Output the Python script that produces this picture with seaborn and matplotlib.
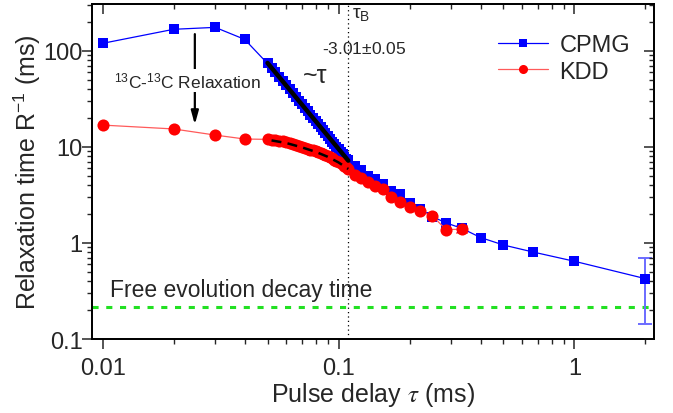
import matplotlib; matplotlib.use("Agg")
import matplotlib.pyplot as plt
import numpy as np
import pandas as pd
import seaborn as sns
from matplotlib.ticker import FuncFormatter, NullFormatter, LogLocator

# ──────────────────────────────────────────────────────────
# Data
# ──────────────────────────────────────────────────────────
cpmg_tau = [0.01, 0.02, 0.03, 0.04,
            0.050, 0.052, 0.054, 0.056, 0.058, 0.060, 0.062, 0.064, 0.066, 0.068,
            0.070, 0.072, 0.074, 0.076, 0.078, 0.080, 0.082, 0.084, 0.086, 0.088,
            0.090, 0.092, 0.094, 0.096, 0.098, 0.100, 0.102, 0.104, 0.106, 0.108, 0.110,
            0.1176, 0.125, 0.1333, 0.1429, 0.1538, 0.1667, 0.1818, 0.2, 0.2222,
            0.25, 0.2857, 0.3333, 0.4, 0.5, 0.6667, 1.0, 2.0]
cpmg_t = [120, 168, 176, 132,
          74, 67, 60, 54, 48.5, 44, 40, 36.3, 33.2, 30.3,
          27.8, 25.5, 23.5, 21.7, 20.1, 18.6, 17.3, 16.0, 14.9, 13.9,
          13.0, 12.2, 11.4, 10.7, 10.0, 9.5, 8.9, 8.4, 7.9, 7.5, 7.3,
          6.4, 5.7, 5.0, 4.6, 4.1, 3.5, 3.2, 2.63, 2.26,
          1.88, 1.62, 1.42, 1.14, 0.953, 0.806, 0.645, 0.425]
cpmg_err = [0] * (len(cpmg_tau) - 1) + [0.28]

kdd_tau = [0.01, 0.02, 0.03, 0.04,
           0.050, 0.052, 0.054, 0.056, 0.058, 0.060, 0.062, 0.064, 0.066, 0.068,
           0.070, 0.072, 0.074, 0.076, 0.078, 0.080, 0.082, 0.084, 0.086, 0.088,
           0.090, 0.092, 0.094, 0.096, 0.098, 0.100, 0.102, 0.104, 0.106, 0.108, 0.110,
           0.1176, 0.125, 0.1333, 0.1429, 0.1538, 0.1667, 0.1818, 0.2, 0.2222,
           0.25, 0.2857, 0.3333]
kdd_t = [16.9, 15.4, 13.3, 12.1,
         12.0, 11.9, 11.8, 11.65, 11.45, 11.2, 11.0, 10.75, 10.5, 10.25,
         10.0, 9.8, 9.6, 9.4, 9.2, 9.0, 8.8, 8.6, 8.4, 8.2,
         8.0, 7.8, 7.6, 7.4, 7.2, 7.0, 6.8, 6.6, 6.4, 6.2, 5.9,
         5.1, 4.72, 4.35, 3.95, 3.62, 3.02, 2.65, 2.37, 2.13,
         1.91, 1.38, 1.39]
kdd_err = [0] * (len(kdd_tau) - 1) + [0.12]

fit_cpmg_tau = [0.05, 0.11]
fit_cpmg_t = [75, 7.2]
fit_kdd_tau = [0.052, 0.06, 0.07, 0.08, 0.09, 0.10, 0.11]
fit_kdd_t = [11.7, 11.0, 9.9, 8.9, 7.9, 6.9, 5.9]

tau_b = 0.11
free_decay = 0.215

# ──────────────────────────────────────────────────────────
# Style
# ──────────────────────────────────────────────────────────
sns.set_style("ticks")
plt.rcParams.update({
    "font.family": ["Liberation Sans", "DejaVu Sans"],
    "mathtext.fontset": "custom",
    "mathtext.rm": "Liberation Sans",
    "mathtext.it": "Liberation Sans:italic",
    "mathtext.bf": "Liberation Sans:bold",
    "axes.linewidth": 1.1,
    "axes.edgecolor": "black",
})

df_cpmg = pd.DataFrame({"tau": cpmg_tau, "t": cpmg_t})
df_kdd = pd.DataFrame({"tau": kdd_tau, "t": kdd_t})

fig = plt.figure(figsize=(6.73, 4.14), dpi=100)
ax = fig.add_axes([0.1371, 0.1787, 0.8351, 0.8085])

sns.lineplot(data=df_cpmg, x="tau", y="t", ax=ax, sort=False, color="#0000ff",
             lw=0.9, marker="s", markersize=7.3, markeredgewidth=0,
             markerfacecolor="#0000ff", label="CPMG", zorder=3)
sns.lineplot(data=df_kdd, x="tau", y="t", ax=ax, sort=False, color="#ff5a5a",
             lw=0.9, marker="o", markersize=8.7, markeredgewidth=0,
             markerfacecolor="#ff0000", label="KDD", zorder=4)

ax.errorbar(cpmg_tau[-1:], cpmg_t[-1:], yerr=cpmg_err[-1:], fmt="none",
            ecolor="#6b6bff", elinewidth=1.4, capsize=5, capthick=1.4, zorder=2)
ax.errorbar(kdd_tau[-1:], kdd_t[-1:], yerr=kdd_err[-1:], fmt="none",
            ecolor="#ff6b6b", elinewidth=1.2, capsize=4, capthick=1.2, zorder=2)

ax.plot(fit_cpmg_tau, fit_cpmg_t, color="black", lw=3.2, solid_capstyle="round", zorder=6)
ax.plot(fit_kdd_tau, fit_kdd_t, color="black", lw=1.8, ls=(0, (4, 2.5)), zorder=6)

ax.axvline(tau_b, color="black", lw=0.9, ls=(0, (1, 2.5)), zorder=1)
ax.axhline(free_decay, color="#22e022", lw=2.2, ls=(0, (2, 2.5)), zorder=1)

ax.set_xscale("log")
ax.set_yscale("log")
ax.set_xlim(0.00904, 2.18)
ax.set_ylim(0.1, 306)

fmt = FuncFormatter(lambda v, _: f"{v:g}")
ax.xaxis.set_major_formatter(fmt)
ax.yaxis.set_major_formatter(fmt)
ax.xaxis.set_minor_formatter(NullFormatter())
ax.yaxis.set_minor_formatter(NullFormatter())
ax.tick_params(which="major", direction="out", length=7, width=1.1, labelsize=17,
               top=False, right=False)
ax.tick_params(axis="x", which="major", pad=6)
ax.tick_params(axis="y", which="major", pad=0)
ax.tick_params(which="minor", direction="out", length=3.5, width=1.0,
               top=False, right=False)

# top / right inward ticks
axt = ax.twiny()
axt.set_xscale("log")
axt.set_xlim(ax.get_xlim())
axt.xaxis.set_minor_locator(LogLocator(subs="auto"))
axt.tick_params(which="major", direction="in", length=7, width=1.1, labeltop=False)
axt.tick_params(which="minor", direction="in", length=3.5, width=1.0)
axt.xaxis.set_minor_formatter(NullFormatter())
axr = ax.twinx()
axr.set_yscale("log")
axr.set_ylim(ax.get_ylim())
axr.tick_params(which="major", direction="in", length=7, width=1.1, labelright=False)
axr.tick_params(which="minor", direction="in", length=3.5, width=1.0)
axr.yaxis.set_minor_formatter(NullFormatter())

ax.set_xlabel(r"Pulse delay $\tau$ (ms)", fontsize=18, labelpad=1, math_fontfamily="stix")
ax.set_ylabel(r"Relaxation time R$^{-1}$ (ms)", fontsize=18, labelpad=0)

ax.text(0.0107, 0.283, "Free evolution decay time", fontsize=16.5, va="baseline")
ax.text(0.0112, 49, r"$^{13}$C-$^{13}$C Relaxation", fontsize=12.5, va="center",
        zorder=8, bbox=dict(facecolor="white", edgecolor="none", pad=1))
ax.annotate("", xy=(0.0246, 16.0), xytext=(0.0246, 160),
            arrowprops=dict(arrowstyle="-|>,head_length=0.8,head_width=0.22",
                            color="black", lw=1.6), zorder=7)
ax.text(0.0703, 48, "~τ", fontsize=18, va="baseline")
ax.text(0.0855, 95, r"-3.01$\pm$0.05", fontsize=12.5, va="baseline")
ax.text(0.1135, 225, r"τ$_\mathrm{B}$", fontsize=14, va="baseline")

leg = ax.legend(loc="upper right", bbox_to_anchor=(0.995, 0.975), frameon=False,
                fontsize=17, handlelength=2.1, markerscale=0.75, labelspacing=0.2,
                handletextpad=0.5)

fig.savefig("out.png", dpi=100)
plt.close(fig)
